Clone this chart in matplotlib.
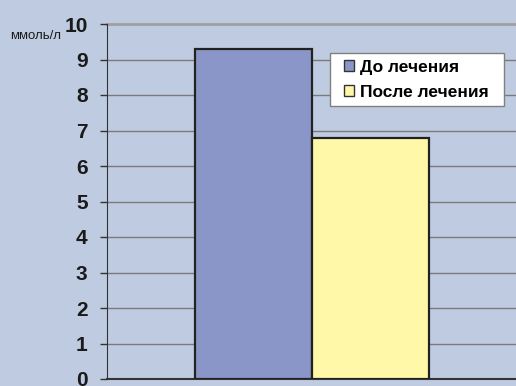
import matplotlib
matplotlib.use("Agg")
from matplotlib import pyplot as plt
from matplotlib.patches import Patch, Rectangle

plt.rcParams['font.family'] = ['Liberation Sans', 'DejaVu Sans']

''' Data read off the chart.'''

series = ["До лечения", "После лечения"]
values = [9.3, 6.8]
colors = ['#8A96C8', '#FFF8A8']
yticks = [0, 1, 2, 3, 4, 5, 6, 7, 8, 9, 10]
unit = "ммоль/л"

bg = '#BECBE1'
W, H = 516, 386

fig = plt.figure(figsize=(5.16, 3.86), dpi=100, facecolor=bg)
axw = 1 - 107/W + 0.01
ax = fig.add_axes([107/W, 7/H, axw, 355/H])
ax.set_facecolor(bg)
wpx = axw * W

positions = [146.5/wpx, 263.5/wpx]
for x, v, c in zip(positions, values, colors):
    ax.bar(x, v, width=117/wpx, color=c, edgecolor='#222222', linewidth=1.6, zorder=3)

ax.set_xlim(0, 1)
ax.set_ylim(0, 10)
ax.set_yticks(yticks)
ax.set_yticklabels([str(t) for t in yticks], fontsize=15, fontweight='bold', color='#1a1a1a')
ax.set_xticks([])

for t in yticks[1:-1]:
    ax.axhline(t, color='#7a7a7a', linewidth=1.0, zorder=1)
ax.axhline(10, color='#a0a0a0', linewidth=2.0, zorder=1, clip_on=False)

ax.tick_params(axis='y', length=5, width=1, color='#333333', pad=9)
for s in ['top', 'right']:
    ax.spines[s].set_visible(False)
ax.spines['left'].set_color('#333333')
ax.spines['bottom'].set_color('#333333')
ax.spines['bottom'].set_linewidth(1.5)

fig.text(10/W, 1 - 36/H, unit, fontsize=9.5, va='center', ha='left', color='#1a1a1a')

''' Legend box drawn by hand so the padding matches.'''

box = Rectangle((330/W, 1 - 106/H), 174/W, 53/H, transform=fig.transFigure,
                facecolor='white', edgecolor='#808080', linewidth=1, zorder=4)
fig.patches.append(box)

handles = [Patch(facecolor=c, edgecolor='#333333', linewidth=1) for c in colors]
leg = fig.legend(handles, series, loc='upper left', bbox_to_anchor=(344/W, 1 - 60/H),
                 frameon=False, prop={'weight': 'bold', 'size': 12.5},
                 handlelength=0.6, handleheight=0.6, handletextpad=0.3,
                 labelspacing=0.55, borderpad=0, borderaxespad=0)
leg.set_zorder(5)

plt.savefig("out.png", dpi=100, facecolor=bg)
